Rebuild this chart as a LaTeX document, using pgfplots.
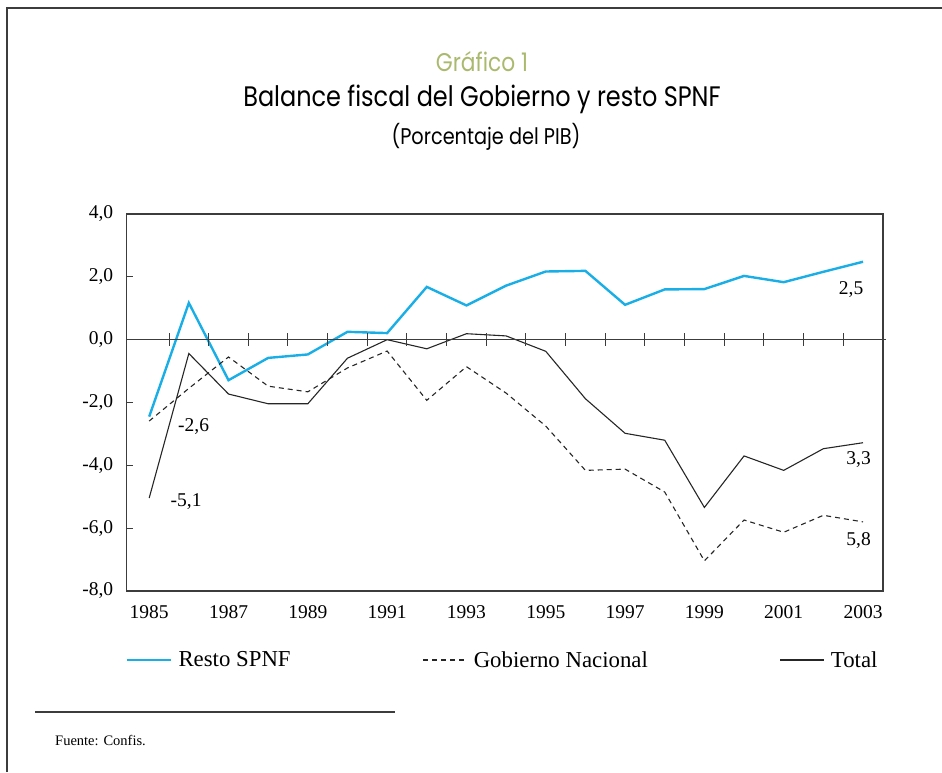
\documentclass[border=0pt]{standalone}
\usepackage{fontspec}
\setmainfont{Liberation Serif}
\newfontfamily\titlefont{Poppins}[FakeStretch=0.85]
\usepackage{pgfplots}
\pgfplotsset{compat=1.18}
\definecolor{gtitle}{RGB}{170,185,110}
\definecolor{cblue}{RGB}{25,174,230}
\definecolor{axgray}{RGB}{60,60,60}
\begin{document}
\begin{tikzpicture}
\useasboundingbox (0pt,0pt) rectangle (942pt,-772pt);
\draw[line width=1.5pt, axgray] (7pt,-772pt) -- (7pt,-8pt) -- (942pt,-8pt);
\node[font=\titlefont\fontsize{25.6}{28}\selectfont, text=gtitle] at (482pt,-62pt) {Gráfico 1};
\node[font=\titlefont\fontsize{28.2}{32}\selectfont] at (482pt,-99pt) {Balance fiscal del Gobierno y resto SPNF};
\node[font=\titlefont\fontsize{22.7}{26}\selectfont] at (486pt,-137pt) {(Porcentaje del PIB)};
\begin{axis}[
  at={(126.7pt,-591pt)}, anchor=south west,
  scale only axis, width=756.3pt, height=377pt,
  xmin=1984.433, xmax=2003.504,
  ymin=-8, ymax=4,
  axis line style={axgray, line width=1.3pt},
  xtick={1985,1987,...,2003},
  xticklabels={1985,1987,1989,1991,1993,1995,1997,1999,2001,2003},
  xtick style={draw=none},
  ytick={-8,-6,...,4},
  yticklabels={{-8,0},{-6,0},{-4,0},{-2,0},{0,0},{2,0},{4,0}},
  ytick pos=left, tick align=inside,
  ytick style={axgray, line width=1pt},
  major tick length=6pt,
  tick label style={font=\fontsize{19.5}{22}\selectfont},
  xticklabel style={yshift=-11pt},
  yticklabel style={xshift=-10pt},
  legend style={at={(axis description cs:-0.001,-0.183)}, anchor=west, draw=none,
     inner sep=0pt, font=\fontsize{22.8}{25}\selectfont,
     /tikz/every odd column/.append style={column sep=4pt},
     /tikz/every even column/.append style={column sep=130pt}},
  legend columns=3,
  legend image code/.code={\draw[#1] (0pt,0pt) -- (44pt,0pt);},
  clip=false,
]
\addplot[cblue, line width=2.4pt] coordinates {
(1985,-2.45) (1986,1.17) (1987,-1.29) (1988,-0.58) (1989,-0.47) (1990,0.25)
(1991,0.21) (1992,1.68) (1993,1.09) (1994,1.72) (1995,2.17) (1996,2.19)
(1997,1.11) (1998,1.60) (1999,1.61) (2000,2.03) (2001,1.83) (2002,2.16) (2003,2.48)};
\addlegendentry{Resto SPNF}
\addplot[black!85, line width=1.1pt, dash pattern=on 5pt off 4pt] coordinates {
(1985,-2.59) (1986,-1.55) (1987,-0.55) (1988,-1.48) (1989,-1.66) (1990,-0.90)
(1991,-0.36) (1992,-1.93) (1993,-0.86) (1994,-1.70) (1995,-2.75) (1996,-4.16)
(1997,-4.12) (1998,-4.85) (1999,-7.04) (2000,-5.74) (2001,-6.13) (2002,-5.59) (2003,-5.80)};
\addlegendentry{Gobierno Nacional\hspace{6pt}}
\addplot[black!85, line width=1.1pt] coordinates {
(1985,-5.04) (1986,-0.44) (1987,-1.73) (1988,-2.04) (1989,-2.04) (1990,-0.59)
(1991,0.0) (1992,-0.29) (1993,0.19) (1994,0.12) (1995,-0.37) (1996,-1.88)
(1997,-2.98) (1998,-3.20) (1999,-5.34) (2000,-3.70) (2001,-4.16) (2002,-3.47) (2003,-3.28)};
\addlegendentry{Total}
\addplot[axgray, line width=1.2pt, forget plot] coordinates {(1984.433,0) (2003.58,0)};
\addplot[axgray, only marks, mark=|, mark size=6.5pt, mark options={line width=1pt}, forget plot] coordinates {
(1985.5,0) (1986.5,0) (1987.5,0) (1988.5,0) (1989.5,0) (1990.5,0) (1991.5,0) (1992.5,0) (1993.5,0)
(1994.5,0) (1995.5,0) (1996.5,0) (1997.5,0) (1998.5,0) (1999.5,0) (2000.5,0) (2001.5,0) (2002.5,0)};
\node[font=\fontsize{19.5}{22}\selectfont] at (axis cs:2002.70,1.58) {2,5};
\node[font=\fontsize{19.5}{22}\selectfont] at (axis cs:1986.12,-2.75) {-2,6};
\node[font=\fontsize{19.5}{22}\selectfont] at (axis cs:1985.93,-5.15) {-5,1};
\node[font=\fontsize{19.5}{22}\selectfont] at (axis cs:2002.89,-3.80) {3,3};
\node[font=\fontsize{19.5}{22}\selectfont] at (axis cs:2002.89,-6.38) {5,8};
\end{axis}
\draw[line width=1.5pt, axgray] (35pt,-712pt) -- (395pt,-712pt);
\node[anchor=west, font=\fontsize{14.5}{16}\selectfont, inner sep=0pt] at (55pt,-740pt) {Fuente: Confis.};
\end{tikzpicture}
\end{document}
